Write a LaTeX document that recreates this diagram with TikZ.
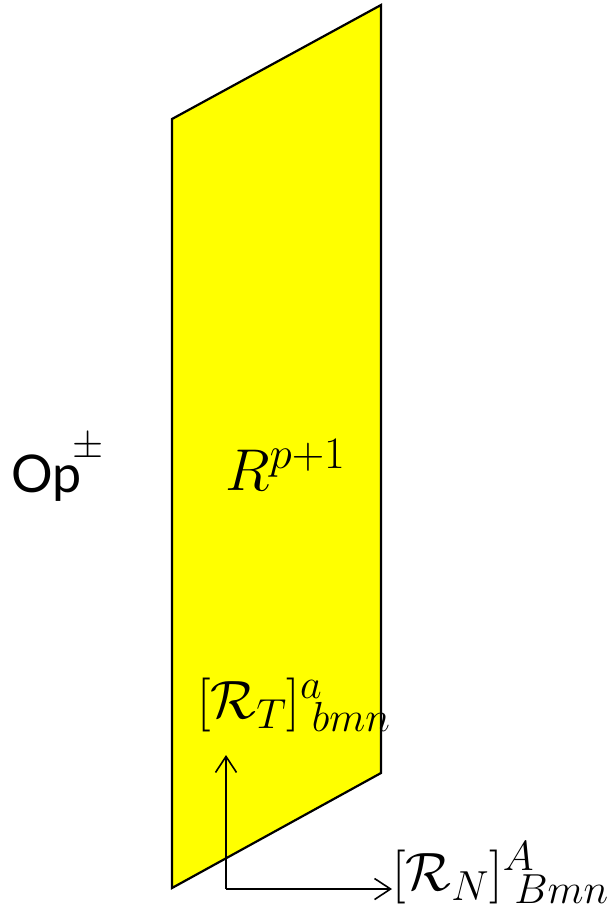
\RequirePackage{fix-cm}
\documentclass[tikz,border=0pt]{standalone}
\usepackage{fontspec}
\newfontfamily\opfont{Lato}
\usetikzlibrary{arrows.meta}
\DeclareMathSizes{54}{54}{42}{30}
\DeclareMathSizes{59}{59}{45}{32}
\definecolor{sheetyellow}{RGB}{255,255,0}
\tikzset{
  sheet/.style={fill=sheetyellow, draw=black, line width=2.2pt, line join=miter},
  vec/.style={draw=black, line width=1.6pt, -{Straight Barb[length=16pt,width=21pt,line width=1.6pt]}},
  bigmath/.style={inner sep=0pt, font=\fontsize{54}{62}\selectfont},
}
\begin{document}
\begin{tikzpicture}[x=1pt,y=-1pt]
\useasboundingbox (0,0) rectangle (609,907);
\coordinate (tl) at (172,119);
\coordinate (tr) at (381,5);
\coordinate (br) at (381,773);
\coordinate (bl) at (172,888);
\path[sheet] (tl) -- (tr) -- (br) -- (bl) -- cycle;
\node[inner sep=0pt, font=\fontsize{59}{66}\selectfont, anchor=base west] (rp) at (225,490) {$R^{p+1}$};
\node[anchor=base west, inner sep=0pt, font=\opfont\fontsize{52}{60}\selectfont] (op) at (11,492) {Op\kern-9pt\raisebox{35pt}{\fontsize{40}{48}\selectfont$\pm$}};
\coordinate (o) at (226,889);
\coordinate (up) at (226,755);
\node[bigmath, anchor=base west] (rt) at (197,718) {$[\mathcal{R}_T]^a_{\;bmn}$};
\node[bigmath, anchor=base west] (rn) at (392,890) {$[\mathcal{R}_N]^A_{\;Bmn}$};
\draw[vec] (o) -- (up);
\draw[vec] (o) -- (rn.base west |- o);
\end{tikzpicture}
\end{document}
